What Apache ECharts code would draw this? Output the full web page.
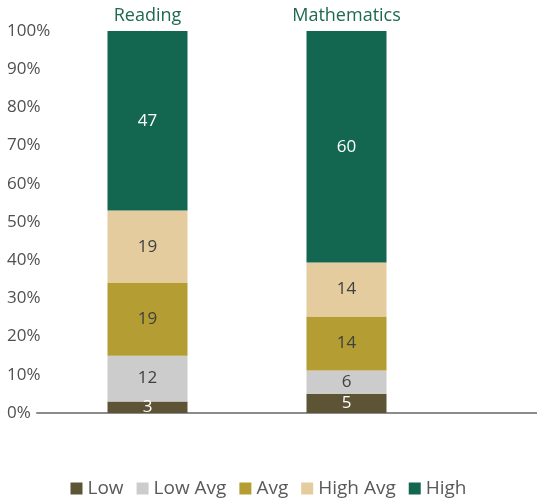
<!DOCTYPE html>
<html>
<head>
<meta charset="utf-8">
<script src="https://cdn.jsdelivr.net/npm/echarts@6/dist/echarts.min.js"></script>
<style>html,body{margin:0;padding:0;background:#fff}#c{width:537px;height:499px}</style>
</head>
<body>
<div id="c"></div>
<script>
var categories = ['Reading', 'Mathematics'];
var seriesNames = ['Low', 'Low Avg', 'Avg', 'High Avg', 'High'];
var lowVals = [3, 5];
var lowAvgVals = [12, 6];
var avgVals = [19, 14];
var highAvgVals = [19, 14];
var highVals = [47, 60];
var yTicks = [0, 10, 20, 30, 40, 50, 60, 70, 80, 90, 100];

var colors = ['#5c5434', '#cccccc', '#b49e33', '#e4cc9e', '#136650'];
var labelColors = ['#ffffff', '#404040', '#404040', '#404040', '#ffffff'];
var values = [lowVals, lowAvgVals, avgVals, highAvgVals, highVals];
var FONT = 'Open Sans';

// 100% stacked: normalise each category by its total
var totals = categories.map(function (c, j) {
  return values.reduce(function (s, arr) { return s + arr[j]; }, 0);
});

var chart = echarts.init(document.getElementById('c'));
var series = seriesNames.map(function (name, i) {
  return {
    name: name,
    type: 'bar',
    stack: 'total',
    xAxisIndex: 1,
    yAxisIndex: 1,
    barWidth: 80,
    data: values[i].map(function (v, j) {
      return { value: v / totals[j] * 100, raw: v };
    }),
    itemStyle: { color: colors[i] },
    label: {
      show: true,
      position: 'inside',
      color: labelColors[i],
      fontFamily: FONT,
      fontSize: 17,
      formatter: function (p) { return String(p.data.raw); }
    }
  };
});

chart.setOption({
  animation: false,
  color: colors,
  textStyle: { fontFamily: FONT },
  grid: [
    { left: 37, right: -20, top: 31, bottom: 86, outerBoundsMode: 'none', containLabel: false },
    { left: 48, width: 398, top: 31, bottom: 86, outerBoundsMode: 'none', containLabel: false }
  ],
  xAxis: [
    {
      gridIndex: 0, type: 'value', min: 0, max: 1,
      axisLine: { show: true, lineStyle: { color: '#8c8c8c', width: 2 } },
      axisTick: { show: false }, axisLabel: { show: false }, splitLine: { show: false }
    },
    {
      gridIndex: 1, type: 'category', position: 'top', data: categories,
      axisLine: { show: false }, axisTick: { show: false },
      axisLabel: { color: '#1d6a4f', fontSize: 18, fontFamily: FONT, margin: 6 }
    }
  ],
  yAxis: [
    {
      gridIndex: 0, type: 'value', min: 0, max: 100, interval: 10,
      axisLine: { show: false }, axisTick: { show: false }, splitLine: { show: false },
      axisLabel: {
        align: 'left', margin: 30, color: '#505050', fontSize: 17, fontFamily: FONT,
        formatter: function (v) { return yTicks.indexOf(v) >= 0 ? v + '%' : ''; }
      }
    },
    {
      gridIndex: 1, type: 'value', min: 0, max: 100, interval: 10, show: false
    }
  ],
  legend: {
    data: seriesNames,
    bottom: 0,
    padding: [5, 5, 1, 5],
    left: 'center',
    icon: 'rect',
    itemWidth: 12,
    itemHeight: 12,
    itemGap: 13,
    textStyle: { color: '#595959', fontSize: 19, fontFamily: FONT }
  },
  series: series
});
</script>
</body>
</html>
